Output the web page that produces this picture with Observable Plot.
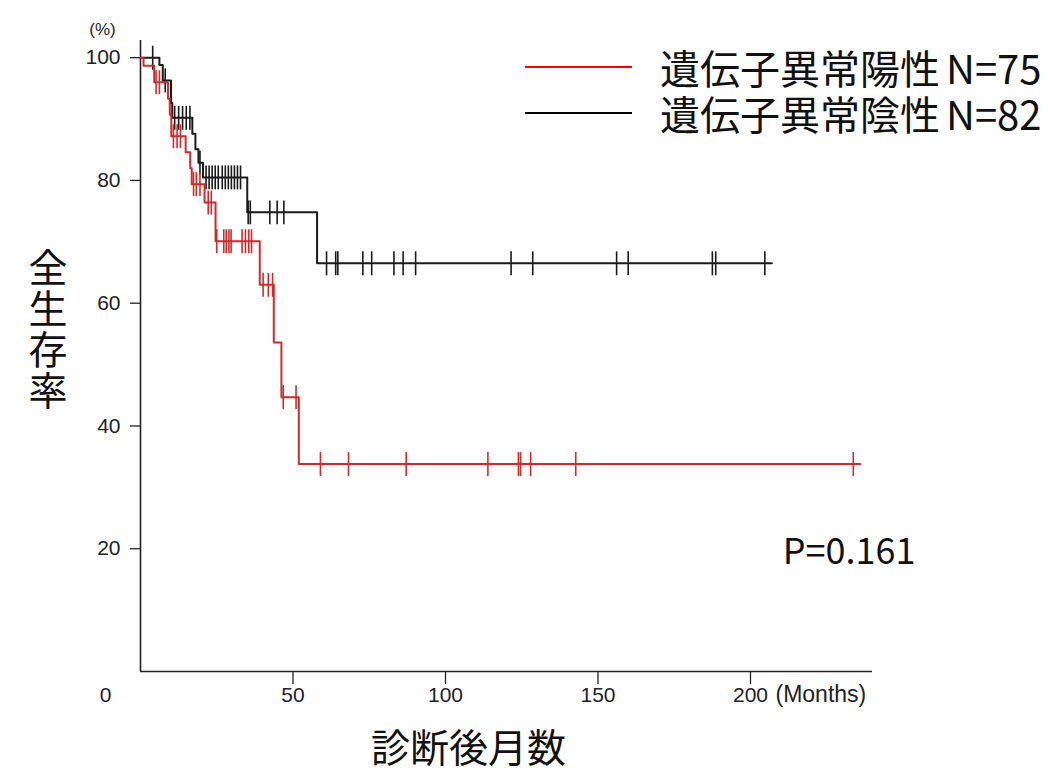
<!DOCTYPE html>
<html>
<head>
<meta charset="utf-8">
<script src="https://cdn.jsdelivr.net/npm/d3@7"></script>
<script src="https://cdn.jsdelivr.net/npm/@observablehq/plot@0.6"></script>
<style>
  html, body { margin: 0; padding: 0; background: #fff; }
  #wrap { position: relative; width: 1048px; height: 776px; }
  #legend { position: absolute; left: 525px; top: 44px; font-family: "Noto Sans CJK JP", sans-serif; font-size: 40px; line-height: 44px; color: #111; }
  .row { display: flex; align-items: center; height: 46px; line-height: 44px; white-space: nowrap; }
  .sw { width: 107px; height: 2px; margin-right: 28px; }
  .lat { margin-left: 6px; }
  #ytitle { position: absolute; left: 28px; top: 248px; writing-mode: vertical-rl; font-family: "Noto Sans CJK JP", sans-serif; font-size: 39px; letter-spacing: 2px; line-height: 40px; color: #111; }
</style>
</head>
<body>
<div id="wrap"><div id="legend"></div><div id="ytitle"></div></div>
<script>
// Series: event times (months) and survival (%) after each event
const posName = "遺伝子異常陽性";
const posN = "N=75";
const negName = "遺伝子異常陰性";
const negN = "N=82";
const posColor = "#d02a2a";
const negColor = "#1a1a1a";

const posEventTimes = [1, 4.5, 9, 9.6, 10.1, 14.8, 16.3, 16.8, 21, 24.6, 39.1, 43.7, 46.2, 51.9];
const posEventSurv  = [98.7, 96.0, 93.3, 90.7, 87.2, 84.6, 82.0, 79.4, 76.4, 70.1, 63.0, 53.6, 44.7, 33.8];
const posCensor = [5.1, 6.2, 10.8, 12.0, 13.1, 17.4, 18.3, 19.5, 22.2, 23.2, 25.0, 27.3, 28.1, 29.0, 29.7,
  33.3, 34.4, 35.5, 36.4, 40.2, 41.9, 43.3, 46.8, 51.0, 59.0, 68.2, 87.1, 113.9, 123.9, 124.6, 127.9, 142.7, 233.7];
const posEnd = 236;

const negEventTimes = [6.2, 7.3, 10, 10.4, 17, 18, 19, 20.5, 35.0, 57.9];
const negEventSurv  = [98.8, 96.3, 92.6, 90.2, 87.6, 85.1, 82.9, 80.5, 74.8, 66.5];
const negCensor = [4.0, 8.1, 11.2, 12.5, 13.8, 15.0, 16.2, 19.5, 21.5, 22.5, 23.5, 24.5, 25.5, 26.8, 27.8,
  28.8, 29.8, 30.8, 31.8, 32.8, 35.3, 36.0, 42.4, 44.8, 47.0, 61.0, 64.0, 64.7, 72.9, 75.8, 83.1, 86.1,
  90.2, 121.5, 128.6, 156.1, 159.9, 187.5, 188.6, 204.7];
const negEnd = 207;

const xTicks = [50, 100, 150, 200];
const yTicks = [20, 40, 60, 80, 100];
const yTitle = "全生存率";
const xTitle = "診断後月数";
const pText = "P=0.161";

function steps(times, surv, end) {
  const pts = [{t: 0, s: 100}];
  times.forEach((t, i) => pts.push({t, s: surv[i]}));
  pts.push({t: end, s: surv[surv.length - 1]});
  return pts;
}
function survAt(times, surv, t) {
  let s = 100;
  times.forEach((et, i) => { if (et <= t) s = surv[i]; });
  return s;
}
const posLine = steps(posEventTimes, posEventSurv, posEnd);
const negLine = steps(negEventTimes, negEventSurv, negEnd);
const posMarks = posCensor.map(t => ({t, s: survAt(posEventTimes, posEventSurv, t)}));
const negMarks = negCensor.map(t => ({t, s: survAt(negEventTimes, negEventSurv, t)}));
const half = 1.95;

const lab = "Liberation Sans, Arial, sans-serif";
const cjk = "Noto Sans CJK JP, sans-serif";

const chart = Plot.plot({
  width: 1048, height: 776,
  marginLeft: 140, marginRight: 176, marginTop: 40, marginBottom: 105,
  x: {domain: [0, 240]},
  y: {domain: [0, 102.8]},
  style: {fontFamily: lab, background: "#fff", color: "#222"},
  marks: [
    Plot.axisY({ticks: yTicks, tickSize: 10, tickFormat: () => "", label: null, stroke: "#222", strokeWidth: 1.3}),
    Plot.axisX({ticks: xTicks, tickSize: 13, tickFormat: () => "", label: null, stroke: "#222", strokeWidth: 1.3}),
    Plot.text(yTicks, {y: d => d, text: d => String(d), frameAnchor: "left", textAnchor: "end", dx: -20, fontSize: 21, fill: "#222"}),
    Plot.text(xTicks, {x: d => d, text: d => String(d), frameAnchor: "bottom", textAnchor: "middle", dy: 30, fontSize: 21, fill: "#222"}),
    Plot.ruleX([0], {stroke: "#222", strokeWidth: 1.6}),
    Plot.ruleY([0], {stroke: "#222", strokeWidth: 1.6}),
    Plot.line(negLine, {x: "t", y: "s", curve: "step-after", stroke: negColor, strokeWidth: 2}),
    Plot.link(negMarks, {x1: "t", x2: "t", y1: d => d.s - half, y2: d => d.s + half, stroke: negColor, strokeWidth: 1.6}),
    Plot.line(posLine, {x: "t", y: "s", curve: "step-after", stroke: posColor, strokeWidth: 2}),
    Plot.link(posMarks, {x1: "t", x2: "t", y1: d => d.s - half, y2: d => d.s + half, stroke: posColor, strokeWidth: 1.6}),
    Plot.text(["(%)"], {text: d => d, frameAnchor: "top-left", textAnchor: "middle", dx: -38, dy: -18, fontSize: 17, fill: "#222"}),
    Plot.text(["0"], {text: d => d, frameAnchor: "bottom-left", textAnchor: "middle", dx: -35, dy: 30, fontSize: 21, fill: "#222"}),
    Plot.text(["(Months)"], {text: d => d, frameAnchor: "bottom-left", textAnchor: "start", dx: 635, dy: 30, fontSize: 23, fill: "#222"}),
    Plot.text([xTitle], {text: d => d, frameAnchor: "bottom", textAnchor: "middle", dx: -38, dy: 90, fontSize: 39, fontFamily: cjk, fill: "#111"}),
    Plot.text([pText], {text: d => d, frameAnchor: "bottom-right", textAnchor: "end", dx: 43, dy: -108, fontSize: 36, fontFamily: cjk, fill: "#111"})
  ]
});
document.getElementById("wrap").prepend(chart);
document.getElementById("ytitle").textContent = yTitle;

const legend = document.getElementById("legend");
[[posName, posN, "#ff0000"], [negName, negN, "#000"]].forEach(([t, n, c]) => {
  const row = document.createElement("div");
  row.className = "row";
  const sw = document.createElement("div");
  sw.className = "sw";
  sw.style.background = c;
  const tx = document.createElement("span");
  tx.textContent = t;
  const nx = document.createElement("span");
  nx.className = "lat";
  nx.textContent = n;
  row.append(sw, tx, nx);
  legend.append(row);
});
</script>
</body>
</html>
